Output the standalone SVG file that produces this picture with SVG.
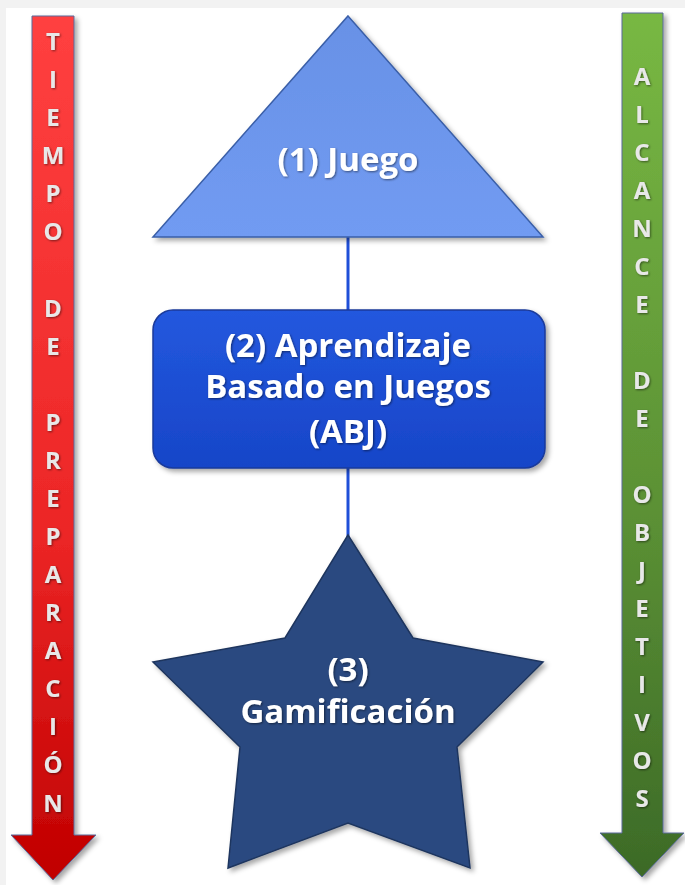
<svg xmlns="http://www.w3.org/2000/svg" width="685" height="885" viewBox="0 0 685 885">
<defs>
<linearGradient id="gRed" x1="0" y1="0" x2="0" y2="1">
<stop offset="0" stop-color="#ff4040"/><stop offset="0.6" stop-color="#ec2626"/><stop offset="1" stop-color="#c00000"/>
</linearGradient>
<linearGradient id="gGreen" x1="0" y1="0" x2="0" y2="1">
<stop offset="0" stop-color="#78b843"/><stop offset="0.6" stop-color="#5a8f34"/><stop offset="1" stop-color="#3c6a27"/>
</linearGradient>
<linearGradient id="gTri" x1="0" y1="0" x2="0" y2="1">
<stop offset="0" stop-color="#6891e6"/><stop offset="1" stop-color="#719bf2"/>
</linearGradient>
<linearGradient id="gRect" x1="0" y1="0" x2="0" y2="1">
<stop offset="0" stop-color="#2358de"/><stop offset="1" stop-color="#1745c8"/>
</linearGradient>
<filter id="sh" x="-10%" y="-10%" width="130%" height="130%">
<feDropShadow dx="3" dy="3" stdDeviation="2.5" flood-color="#000" flood-opacity="0.35"/>
</filter>
<filter id="tsh" x="-10%" y="-20%" width="120%" height="140%">
<feDropShadow dx="1" dy="1" stdDeviation="1" flood-color="#000" flood-opacity="0.5"/>
</filter>
</defs>
<style>
.lbl{font-family:"Open Sans","Noto Sans","Liberation Sans",sans-serif;font-weight:bold;font-size:33px;fill:#ffffff;text-anchor:middle}
.let{font-family:"Open Sans","Noto Sans","Liberation Sans",sans-serif;font-weight:bold;font-size:24px;fill:#e8e8e8;text-anchor:middle}
.conn{stroke:#1f4fd8;stroke-width:3;fill:none}
</style>
<rect x="0" y="0" width="685" height="885" fill="#f2f2f2"/>
<rect x="6" y="8" width="679" height="877" fill="#ffffff"/>

<g id="connectors">
<line class="conn" x1="348" y1="236" x2="348" y2="312"/>
<line class="conn" x1="348" y1="466" x2="348" y2="537"/>
</g>

<g id="arrow-tiempo">
<polygon points="32,16 74,16 74,835 96,835 53,880 11,835 32,835" fill="url(#gRed)" stroke="#5a6a9a" stroke-width="1" filter="url(#sh)"/>
<g class="let" filter="url(#tsh)">
<text x="53" y="50">T</text>
<text x="53" y="88">I</text>
<text x="53" y="126">E</text>
<text x="53" y="164">M</text>
<text x="53" y="202">P</text>
<text x="53" y="240">O</text>
<text x="53" y="317">D</text>
<text x="53" y="355">E</text>
<text x="53" y="431">P</text>
<text x="53" y="469">R</text>
<text x="53" y="507">E</text>
<text x="53" y="545">P</text>
<text x="53" y="583">A</text>
<text x="53" y="621">R</text>
<text x="53" y="659">A</text>
<text x="53" y="697">C</text>
<text x="53" y="735">I</text>
<text x="53" y="773">Ó</text>
<text x="53" y="812">N</text>
</g>
</g>

<g id="arrow-alcance">
<polygon points="622,13 663,13 663,833 684,833 642,877 600,833 622,833" fill="url(#gGreen)" stroke="#5a6a9a" stroke-width="1" filter="url(#sh)"/>
<g class="let" filter="url(#tsh)">
<text x="642" y="85">A</text>
<text x="642" y="123">L</text>
<text x="642" y="161">C</text>
<text x="642" y="199">A</text>
<text x="642" y="237">N</text>
<text x="642" y="275">C</text>
<text x="642" y="313">E</text>
<text x="642" y="389">D</text>
<text x="642" y="427">E</text>
<text x="642" y="503">O</text>
<text x="642" y="541">B</text>
<text x="642" y="579">J</text>
<text x="642" y="617">E</text>
<text x="642" y="655">T</text>
<text x="642" y="693">I</text>
<text x="642" y="731">V</text>
<text x="642" y="769">O</text>
<text x="642" y="807">S</text>
</g>
</g>

<g id="node-juego">
<polygon points="348,16 543,237 153,237" fill="url(#gTri)" stroke="#3a5fa8" stroke-width="1.5" filter="url(#sh)"/>
<text class="lbl" x="348" y="171" filter="url(#tsh)">(1) Juego</text>
</g>

<g id="node-abj">
<rect x="153" y="310" width="392" height="158" rx="20" ry="20" fill="url(#gRect)" stroke="#1a3a9a" stroke-width="1.5" filter="url(#sh)"/>
<g class="lbl" filter="url(#tsh)">
<text x="348" y="357">(2) Aprendizaje</text>
<text x="348" y="398">Basado en Juegos</text>
<text x="348" y="443">(ABJ)</text>
</g>
</g>

<g id="node-gamificacion">
<polygon points="348,535 413,638 543,662 457,747 470,868 348,823 228,868 240,747 153,662 285,638" fill="#2c4a80" stroke="#1e355e" stroke-width="1.5" filter="url(#sh)"/>
<g class="lbl" filter="url(#tsh)">
<text x="348" y="681">(3)</text>
<text x="348" y="723">Gamificación</text>
</g>
</g>
</svg>
